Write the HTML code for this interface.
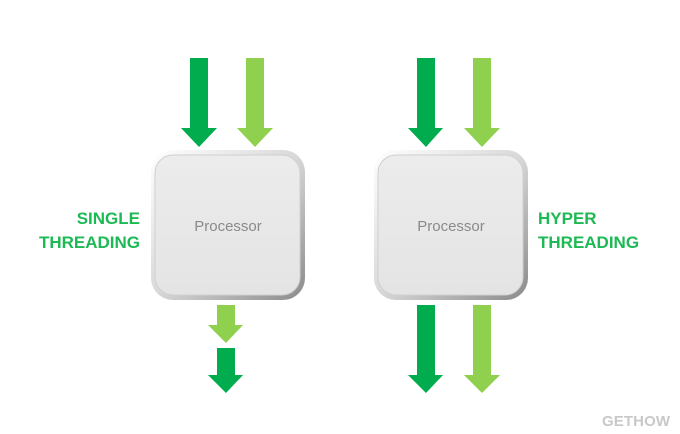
<!DOCTYPE html>
<html><head><meta charset="utf-8"><style>
html,body{margin:0;padding:0;background:#fff;}
svg{display:block;}
</style></head><body>
<svg width="680" height="434" viewBox="0 0 680 434" xmlns="http://www.w3.org/2000/svg">
<defs>
<linearGradient id="bev" x1="0" y1="0" x2="1" y2="1">
<stop offset="0" stop-color="#ffffff"/><stop offset="0.5" stop-color="#d8d8d8"/><stop offset="1" stop-color="#8a8a8a"/>
</linearGradient>
<linearGradient id="fill" x1="0" y1="0" x2="0" y2="1">
<stop offset="0" stop-color="#ececec"/><stop offset="1" stop-color="#e4e4e4"/>
</linearGradient>
</defs>
<g id="box1">
<rect x="151" y="150" width="154" height="150" rx="22" fill="url(#bev)"/>
<rect x="155" y="155" width="145" height="140" rx="18" fill="url(#fill)" stroke="#cfcfcf" stroke-width="1"/>
</g>
<rect x="374" y="150" width="154" height="150" rx="22" fill="url(#bev)"/>
<rect x="378" y="155" width="145" height="140" rx="18" fill="url(#fill)" stroke="#cfcfcf" stroke-width="1"/>
<g font-family="Liberation Sans, sans-serif" font-size="15" fill="#8a8a8a" text-anchor="middle">
<text x="228" y="231">Processor</text>
<text x="451" y="231">Processor</text>
</g>
<!-- left top arrows -->
<polygon points="190,58 208,58 208,128 217,128 199,147 181,128 190,128" fill="#00ac4e"/>
<polygon points="246,58 264,58 264,128 273,128 255,147 237,128 246,128" fill="#8fd04f"/>
<!-- left bottom -->
<polygon points="217,305 235,305 235,325 243,325 226,343 208,325 217,325" fill="#8fd04f"/>
<polygon points="217,348 235,348 235,375 243,375 226,393 208,375 217,375" fill="#00ac4e"/>
<!-- right top -->
<polygon points="417,58 435,58 435,128 443,128 426,147 408,128 417,128" fill="#00ac4e"/>
<polygon points="473,58 491,58 491,128 500,128 482,147 464,128 473,128" fill="#8fd04f"/>
<!-- right bottom -->
<polygon points="417,305 435,305 435,375 443,375 426,393 408,375 417,375" fill="#00ac4e"/>
<polygon points="473,305 491,305 491,375 500,375 482,393 464,375 473,375" fill="#8fd04f"/>
<g font-family="Liberation Sans, sans-serif" font-size="17" font-weight="bold" fill="#1db954">
<text x="140" y="224" text-anchor="end">SINGLE</text>
<text x="140" y="248" text-anchor="end">THREADING</text>
<text x="538" y="224">HYPER</text>
<text x="538" y="248">THREADING</text>
</g>
<text x="602" y="426" font-family="Liberation Sans, sans-serif" font-size="15" font-weight="bold" fill="#c8c8c8" textLength="68">GETHOW</text>
</svg>
</body></html>
